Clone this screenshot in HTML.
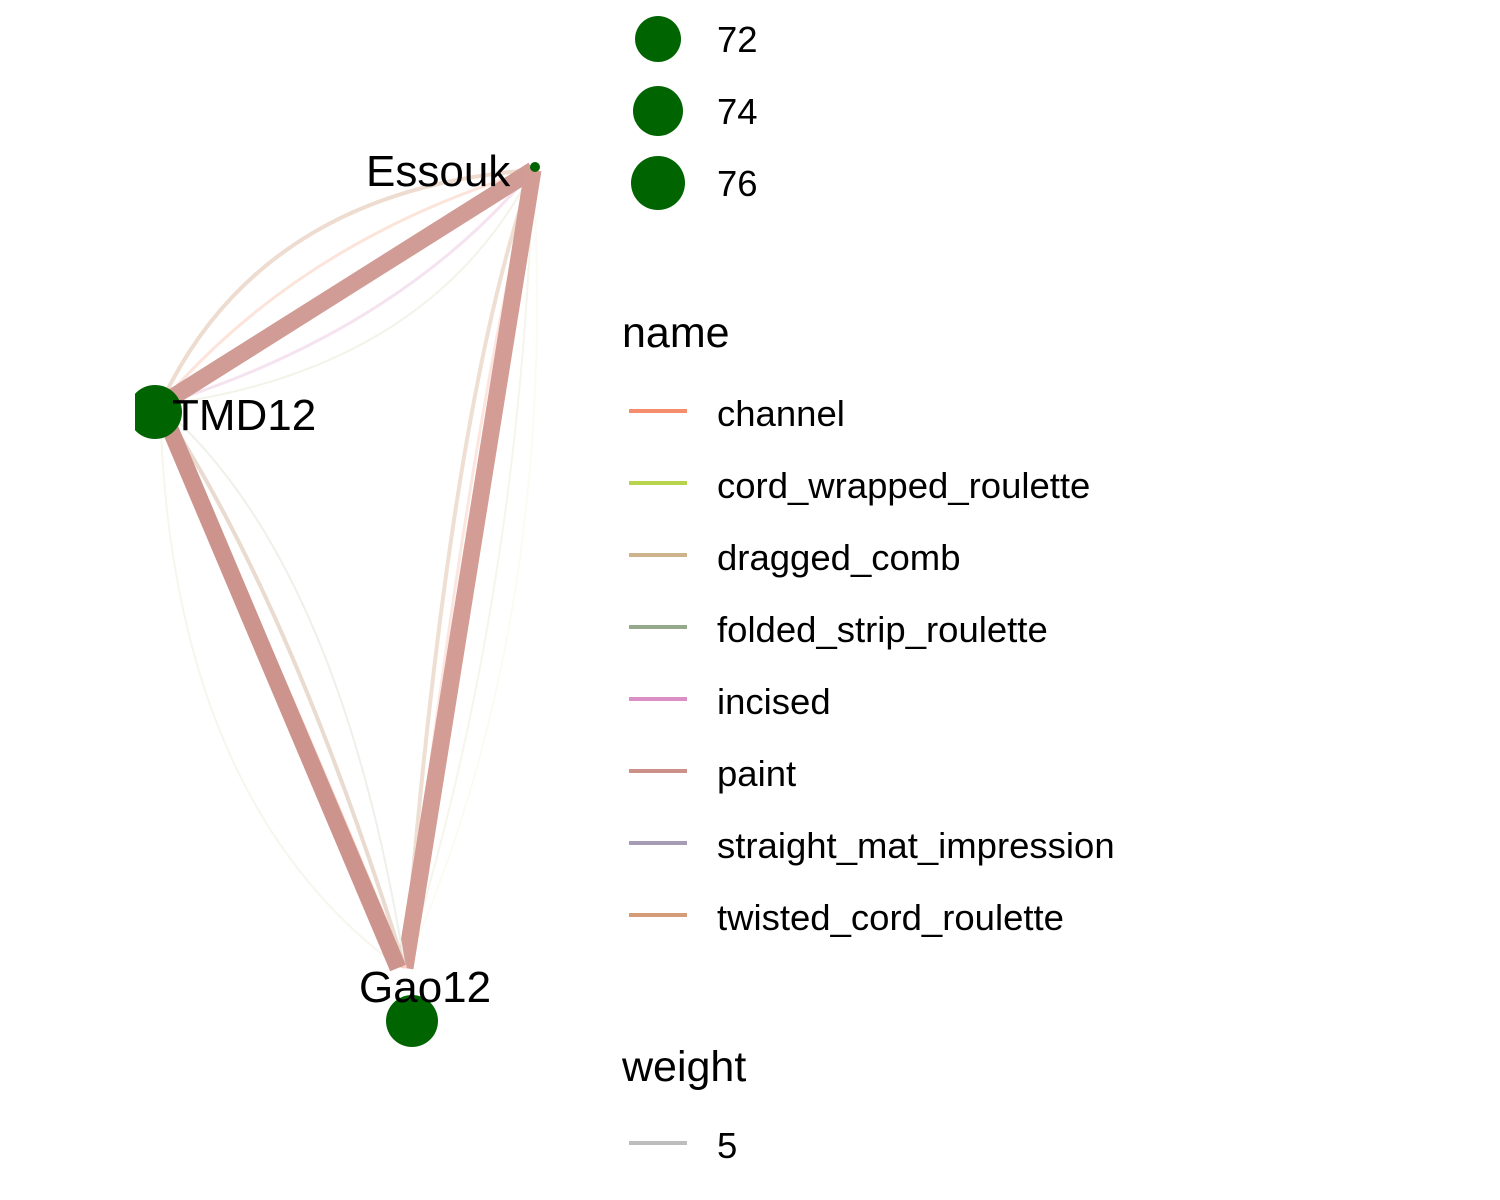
<!DOCTYPE html>
<html><head><meta charset="utf-8"><style>
html,body{margin:0;padding:0;background:#fff;}
svg{display:block;font-family:"Liberation Sans",Arial,sans-serif;}
</style></head><body>
<svg width="1500" height="1200" viewBox="0 0 1500 1200" xmlns="http://www.w3.org/2000/svg">
<rect width="1500" height="1200" fill="#fff"/>
<g fill="none" stroke-linecap="butt">
<path d="M160,405 Q260,190 533,170" stroke="#eddccf" stroke-width="4"/>
<path d="M160,405 Q300,240 533,170" stroke="#fde4da" stroke-width="3"/>
<path d="M160,405 Q400,330 533,170" stroke="#f5e3f0" stroke-width="3"/>
<path d="M160,405 Q430,370 533,170" stroke="#f3f3ea" stroke-width="2"/>
<path d="M160,405 L533,170" stroke="#d09c95" stroke-width="17"/>
<path d="M533,170 Q450,400 405,968" stroke="#eedfd2" stroke-width="4"/>
<path d="M533,170 Q470,420 405,968" stroke="#fde6e0" stroke-width="3"/>
<path d="M533,170 Q520,600 405,968" stroke="#f5f5ec" stroke-width="2"/>
<path d="M533,170 Q560,620 405,968" stroke="#fbfbf4" stroke-width="2"/>
<path d="M533,170 L405,968" stroke="#d39d95" stroke-width="17"/>
<path d="M160,405 Q170,800 400,968" stroke="#f6f5ee" stroke-width="2"/>
<path d="M160,405 Q340,560 405,968" stroke="#edf1ea" stroke-width="2"/>
<path d="M160,405 Q290,600 405,968" stroke="#eadbd0" stroke-width="4"/>
<path d="M160,405 Q270,640 405,968" stroke="#fccfbf" stroke-width="4"/>
<path d="M160,405 L398,968" stroke="#cd948d" stroke-width="17"/>
</g>
<circle cx="535" cy="167" r="5" fill="#006400"/>
<circle cx="155" cy="412" r="27" fill="#006400"/>
<rect x="0" y="380" width="135" height="70" fill="#fff"/>
<circle cx="412" cy="1021" r="26" fill="#006400"/>
<g font-size="44" fill="#000">
<text x="366" y="186">Essouk</text>
<text x="172" y="430">TMD12</text>
<text x="359" y="1002">Gao12</text>
</g>
<circle cx="658" cy="39" r="23" fill="#006400"/>
<circle cx="658" cy="111" r="25" fill="#006400"/>
<circle cx="658" cy="183" r="27" fill="#006400"/>
<g font-size="36.5" fill="#000">
<text x="717" y="52">72</text>
<text x="717" y="124">74</text>
<text x="717" y="196">76</text>
<text x="622" y="347" font-size="43">name</text>
<text x="717" y="426">channel</text>
<text x="717" y="498">cord_wrapped_roulette</text>
<text x="717" y="570">dragged_comb</text>
<text x="717" y="642">folded_strip_roulette</text>
<text x="717" y="714">incised</text>
<text x="717" y="786">paint</text>
<text x="717" y="858">straight_mat_impression</text>
<text x="717" y="930">twisted_cord_roulette</text>
<text x="622" y="1081" font-size="43">weight</text>
<text x="717" y="1158">5</text>
</g>
<g stroke-width="4">
<line x1="629" y1="411" x2="687" y2="411" stroke="#f58e6c"/>
<line x1="629" y1="483" x2="687" y2="483" stroke="#b7d44c"/>
<line x1="629" y1="555" x2="687" y2="555" stroke="#cdb48c"/>
<line x1="629" y1="627" x2="687" y2="627" stroke="#94aa8a"/>
<line x1="629" y1="699" x2="687" y2="699" stroke="#da8fc6"/>
<line x1="629" y1="771" x2="687" y2="771" stroke="#cc928a"/>
<line x1="629" y1="843" x2="687" y2="843" stroke="#a69cb6"/>
<line x1="629" y1="915" x2="687" y2="915" stroke="#d49c78"/>
<line x1="629" y1="1143" x2="687" y2="1143" stroke="#bdbdbd"/>
</g>
</svg>
</body></html>
